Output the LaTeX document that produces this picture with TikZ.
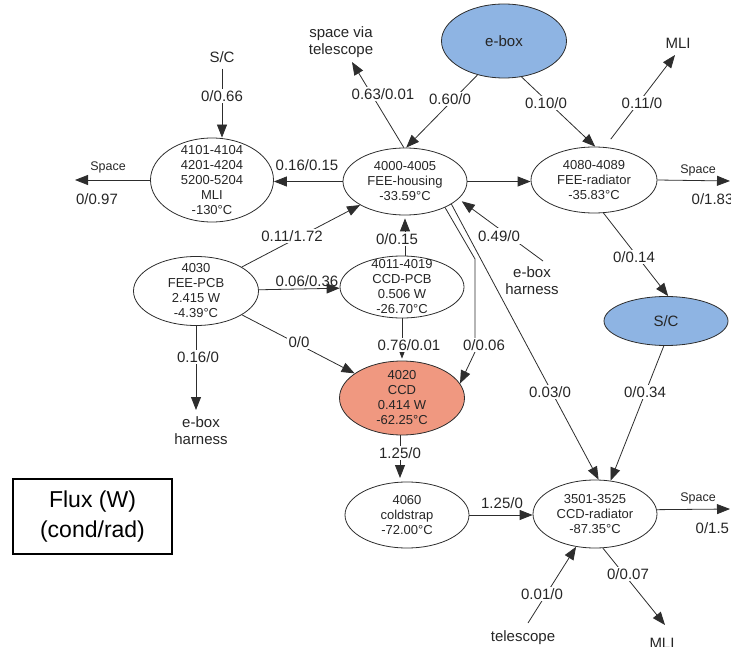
\documentclass[tikz,border=0pt]{standalone}
\usepackage{fontspec}
\setmainfont{Liberation Sans}
\usetikzlibrary{shapes.geometric,arrows.meta}
\definecolor{boxblue}{RGB}{142,180,227}
\definecolor{ccdsalmon}{RGB}{240,152,128}
\definecolor{ink}{RGB}{38,38,38}
\definecolor{edgecol}{RGB}{45,45,45}
\begin{document}
\begin{tikzpicture}[x=1pt,y=-1pt,
  ell/.style={ellipse, draw=edgecol, line width=0.8pt, inner sep=0pt},
  etx/.style={align=center, font=\fontsize{13}{15}\selectfont, text=ink, inner sep=0pt},
  big/.style={align=center, font=\fontsize{15}{17}\selectfont, text=ink},
  lbl/.style={font=\fontsize{15}{17}\selectfont, text=ink, inner sep=1.5pt},
  lblw/.style={lbl, fill=white},
  spc/.style={font=\fontsize{12.5}{14}\selectfont, text=ink, inner sep=1pt},
  arr/.style={draw=edgecol, line width=0.8pt, -{Triangle[length=13pt,width=10pt]}}
]
\useasboundingbox (0,0) rectangle (731,647);

% ---- ellipse nodes ----
\node[ell, minimum width=123pt, minimum height=84pt,
  label={[etx]center:{4101-4104\\4201-4204\\5200-5204\\MLI\\-130°C}}] (mli) at (212,180) {};
\node[ell, minimum width=124pt, minimum height=67pt,
  label={[etx]center:{4000-4005\\FEE-housing\\-33.59°C}}] (housing) at (405,181.5) {};
\node[ell, minimum width=126pt, minimum height=66pt,
  label={[etx]center:{4080-4089\\FEE-radiator\\-35.83°C}}] (rad) at (594,180) {};
\node[ell, fill=boxblue, minimum width=125pt, minimum height=74pt,
  label={[big]center:{e-box}}] (ebox) at (504,41) {};
\node[ell, minimum width=125pt, minimum height=69pt,
  label={[etx]center:{4030\\FEE-PCB\\2.415 W\\-4.39°C}}] (pcb) at (196,291) {};
\node[ell, minimum width=124pt, minimum height=62pt,
  label={[etx]center:{4011-4019\\CCD-PCB\\0.506 W\\-26.70°C}}] (ccdpcb) at (402,287) {};
\node[ell, fill=ccdsalmon, minimum width=125pt, minimum height=74pt,
  label={[etx]center:{4020\\CCD\\0.414 W\\-62.25°C}}] (ccd) at (402,398) {};
\node[ell, minimum width=124pt, minimum height=66pt,
  label={[etx]center:{4060\\coldstrap\\-72.00°C}}] (cold) at (407,515) {};
\node[ell, minimum width=124pt, minimum height=68pt,
  label={[etx]center:{3501-3525\\CCD-radiator\\-87.35°C}}] (ccdrad) at (595,514) {};
\node[ell, fill=boxblue, minimum width=124pt, minimum height=49pt,
  label={[big]center:{S/C}}] (sc2) at (666,321) {};

% ---- free text nodes ----
\node[big, inner sep=2pt] (sc1) at (222,57) {S/C};
\node[big, inner sep=1pt] (svt) at (341,42) {space via\\telescope};
\node[big, inner sep=1pt] (mliT) at (678,43) {MLI};
\node[big, inner sep=1pt] (harnL) at (201,431) {e-box\\harness};
\node[big, inner sep=1pt] (harnR) at (532,281) {e-box\\harness};
\node[big, inner sep=1pt] (tel) at (523,638) {telescope};
\node[big, inner sep=1pt] (mliB) at (662,643) {MLI};
\node[draw=black, line width=1.2pt, minimum width=159pt, minimum height=75pt,
  align=center, font=\fontsize{23}{30}\selectfont] (legend) at (92.5,516.5) {Flux (W)\\(cond/rad)};

% ---- free ends ----
\coordinate (spL) at (75,180);
\coordinate (spR) at (730,181);
\coordinate (spR2) at (730,509);
\coordinate (svtTip) at (352,62);
\coordinate (mliTTip) at (675,55);
\coordinate (harnLTip) at (196,410);
\coordinate (harnRStart) at (543,261);
\coordinate (telStart) at (528,623);
\coordinate (mliBTip) at (665,625);

% ---- connectors ----
\draw[arr, shorten <=4pt] (sc1.south) -- (sc1.south |- mli.north);
\draw[arr] (mli.west) -- (spL);
\draw[arr] (housing.west) -- (housing.west -| mli.east);
\draw[arr] (housing.92) -- (svtTip);
\draw[arr] (ebox.232) -- (housing.88);
\draw[arr] (ebox.296) -- (rad.88);
\draw[arr, shorten <=10pt] (rad.72) -- (mliTTip);
\draw[arr] (housing.east) -- (housing.east -| rad.west);
\draw[arr] (rad.east) -- (spR);
\draw[arr] (pcb) -- (housing);
\draw[arr, shorten >=3pt] (ccdpcb.north -| housing.south) -- (housing.south);
\draw[arr] (pcb) -- (ccdpcb);
\draw[arr] (pcb) -- (ccd);
\draw[arr] (pcb.south) -- (harnLTip);
\draw[arr, shorten >=2pt] (ccdpcb.south) -- (ccd.north);
\draw[arr] (housing.-33) -- (475,259) -- (475,352) -- (ccd.14);
\draw[arr] (housing.-26) -- (ccdrad.84);
\draw[arr, shorten >=4pt] (harnRStart) -- (housing.-18);
\draw[arr] (rad.-74) -- (sc2.85);
\draw[arr] (sc2.265) -- (ccdrad.65);
\draw[arr, shorten >=4pt] (ccd.south -| 400,0) -- (400,482);
\draw[arr] (cold.east) -- (cold.east -| ccdrad.west);
\draw[arr] (ccdrad.4) -- (spR2);
\draw[arr] (telStart) -- (ccdrad.-120);
\draw[arr] (ccdrad.-77) -- (mliBTip);

% ---- edge labels ----
\node[lblw] (l1) at (222,96) {0/0.66};
\node[lbl] (l2) at (307,165) {0.16/0.15};
\node[lblw] (l3) at (383,94) {0.63/0.01};
\node[lblw] (l4) at (450,99) {0.60/0};
\node[lblw] (l5) at (546,103) {0.10/0};
\node[lblw] (l6) at (642,103) {0.11/0};
\node[lblw] (l7) at (292,236) {0.11/1.72};
\node[lblw] (l8) at (397,239) {0/0.15};
\node[lbl] (l9) at (307,281) {0.06/0.36};
\node[lblw] (l10) at (299,342) {0/0};
\node[lblw] (l11) at (198,357) {0.16/0};
\node[lblw] (l12) at (409,345) {0.76/0.01};
\node[lblw] (l13) at (484,345) {0/0.06};
\node[lblw, inner sep=2.5pt] (l14) at (499,236) {0.49/0};
\node[lblw] (l15) at (634,257) {0/0.14};
\node[lblw] (l16) at (550,392) {0.03/0};
\node[lblw] (l17) at (645,392) {0/0.34};
\node[lblw] (l18) at (400,453) {1.25/0};
\node[lbl] (l19) at (502,503) {1.25/0};
\node[lblw] (l20) at (542,594) {0.01/0};
\node[lblw] (l21) at (628,574) {0/0.07};

\node[spc] (s1) at (108,167) {Space};
\node[lbl] (s1v) at (97,199) {0/0.97};
\node[spc] (s2) at (698,170) {Space};
\node[lbl, anchor=west] (s2v) at (690,199) {0/1.83};
\node[spc] (s3) at (698,498) {Space};
\node[lbl, anchor=west] (s3v) at (694,528) {0/1.5};
\end{tikzpicture}
\end{document}
